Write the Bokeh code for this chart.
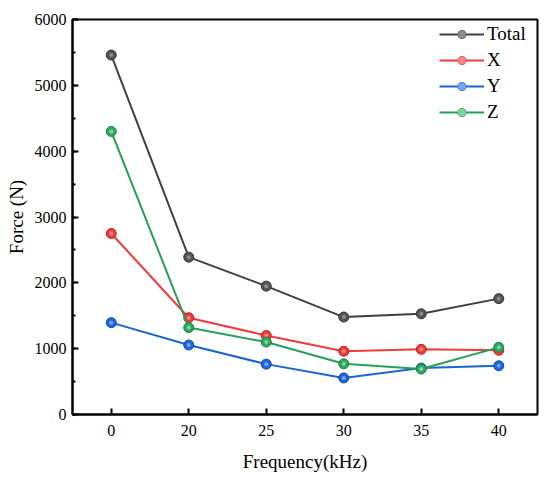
from bokeh.plotting import figure
from bokeh.models import Range1d, FactorRange, SingleIntervalTicker, Legend
from bokeh.embed import file_html
from bokeh.resources import INLINE

freqs = ["0", "20", "25", "30", "35", "40"]
total = [5460, 2390, 1950, 1480, 1530, 1760]
force_x = [2750, 1470, 1200, 960, 990, 975]
force_y = [1395, 1055, 765, 555, 705, 740]
force_z = [4300, 1320, 1100, 770, 690, 1020]

series = [
    ("Total", total, "#404040", "#555555", "#333333", "#9a9a9a"),
    ("X", force_x, "#f23a3a", "#ee3a3a", "#c02020", "#ff9a9a"),
    ("Y", force_y, "#1a64d0", "#1f66dd", "#1048a8", "#8ab4ff"),
    ("Z", force_z, "#25a055", "#2ea85e", "#1a8040", "#8fe0ad"),
]

FONT = "Liberation Serif"

p = figure(width=550, height=481, x_range=FactorRange(*freqs),
           y_range=Range1d(0, 6000), output_backend="svg",
           toolbar_location=None, min_border_left=72, min_border_right=13,
           min_border_top=19, min_border_bottom=67)

p.xgrid.visible = False
p.ygrid.visible = False
p.outline_line_color = "black"
p.outline_line_width = 2
p.outline_line_alpha = 1

p.yaxis.ticker = SingleIntervalTicker(interval=1000, num_minor_ticks=2)

for ax in (p.xaxis[0], p.yaxis[0]):
    ax.axis_line_width = 2
    ax.axis_line_color = "black"
    ax.major_tick_line_width = 2
    ax.major_tick_line_color = "black"
    ax.minor_tick_line_width = 2
    ax.minor_tick_line_color = "black"
    ax.major_tick_in = 6
    ax.major_tick_out = 0
    ax.minor_tick_in = 3
    ax.minor_tick_out = 0
    ax.major_label_text_font = FONT
    ax.major_label_text_font_size = "16px"
    ax.major_label_text_color = "black"
    ax.axis_label_text_font = FONT
    ax.axis_label_text_font_size = "19px"
    ax.axis_label_text_font_style = "normal"
    ax.axis_label_text_color = "black"

p.xaxis.minor_tick_line_color = None
p.xaxis.major_label_standoff = 10
p.yaxis.major_label_standoff = 6
p.xaxis.axis_label = "Frequency(kHz)"
p.yaxis.axis_label = "Force (N)"
p.xaxis.axis_label_standoff = 12
p.yaxis.axis_label_standoff = 5

items = []
for name, vals, lc, fc, ec, hc in series:
    l = p.line(freqs, vals, line_color=lc, line_width=2)
    s = p.scatter(freqs, vals, size=10, fill_color=fc, line_color=ec, line_width=1)
    h = p.scatter(freqs, vals, size=4, fill_color=hc, fill_alpha=0.8, line_color=None)
    items.append((name, [l, s, h]))

legend = Legend(items=items, location=(367, 291))
legend.border_line_color = None
legend.background_fill_alpha = 0
legend.label_text_font = FONT
legend.label_text_font_size = "19px"
legend.label_text_color = "black"
legend.glyph_width = 45
legend.glyph_height = 20
legend.label_height = 20
legend.spacing = 4
legend.padding = 2
legend.margin = 0
legend.label_standoff = 3
p.add_layout(legend)

open("out.html", "w").write(file_html(p, INLINE))
